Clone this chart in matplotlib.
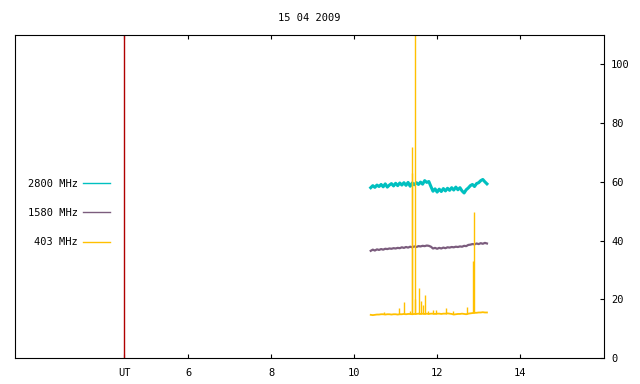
import numpy as np
import matplotlib
matplotlib.use('Agg')
import matplotlib.pyplot as plt

title = '15 04 2009'
ut_hour = 4.46
t_start, t_end = 10.40, 13.20
x_ticks = [6, 8, 10, 12, 14]
y_ticks = [0, 20, 40, 60, 80, 100]

# flux samples, one every 0.05 h from t_start to t_end
mhz2800 = [58.0, 58.7, 58.1, 58.9, 58.4, 59.1, 58.3, 59.3, 58.2, 58.9,
           59.4, 58.6, 59.5, 58.7, 59.6, 58.9, 59.7, 58.8, 59.8, 58.5,
           59.6, 59.0, 59.7, 59.1, 59.9, 59.2, 60.4, 59.8, 60.1, 58.4,
           56.8, 57.6, 56.5, 57.5, 56.7, 57.7, 56.9, 57.8, 57.1, 58.0,
           57.2, 58.2, 57.3, 58.0, 56.9, 56.2, 57.3, 57.9, 58.7, 59.1,
           58.4, 59.4, 59.7, 60.4, 60.8, 60.0, 59.3]
mhz1580 = [36.5, 36.9, 36.6, 37.0, 36.8, 37.1, 36.9, 37.2, 37.1, 37.3,
           37.2, 37.4, 37.3, 37.5, 37.4, 37.7, 37.5, 37.8, 37.6, 37.9,
           37.7, 38.0, 37.8, 38.1, 38.0, 38.2, 38.1, 38.3, 38.2, 37.9,
           37.3, 37.5, 37.2, 37.5, 37.3, 37.6, 37.4, 37.7, 37.6, 37.8,
           37.7, 37.9, 37.8, 38.0, 37.9, 38.2, 38.1, 38.5, 38.6, 38.8,
           38.7, 39.0, 38.8, 39.1, 38.9, 39.2, 39.0]
mhz403 = [14.7, 14.6, 14.7, 14.8, 14.8, 14.9, 14.9, 14.8, 14.9, 14.9,
          14.8, 14.9, 14.9, 14.8, 14.9, 14.9, 15.0, 14.9, 15.0, 15.0,
          14.9, 15.0, 15.0, 15.1, 15.0, 15.1, 15.0, 15.1, 15.0, 15.1,
          15.1, 15.0, 15.1, 15.1, 15.0, 15.1, 15.1, 15.2, 15.1, 15.0,
          14.8, 14.9, 15.0, 15.0, 15.1, 15.0, 14.9, 15.1, 15.2, 15.3,
          15.4, 15.4, 15.5, 15.5, 15.6, 15.5, 15.5]
# 403 MHz bursts
spike_t = [10.71, 11.07, 11.19, 11.35, 11.385, 11.40, 11.455, 11.47, 11.57, 11.60,
           11.65, 11.71, 11.79, 11.89, 11.98, 12.21, 12.39, 12.73, 12.86, 12.88]
spike_v = [15.8, 17.1, 19.2, 16.0, 72.0, 63.0, 115.0, 20.0, 23.9, 19.5,
           18.0, 21.3, 16.0, 16.3, 16.3, 17.1, 16.0, 17.5, 33.0, 49.8]

c2800 = '#00c0c0'
c1580 = '#7b5c7d'
c403 = '#ffc000'

plt.rcParams['font.family'] = ['DejaVu Sans Mono']
fs = 7.5

fig = plt.figure(figsize=(6.4, 3.84), dpi=100)
ax = fig.add_axes([15/640, 26/384, 589/640, 323/384])

times = np.linspace(t_start, t_end, len(mhz2800))
ax.plot(times, mhz2800, color=c2800, lw=2.2, label='2800 MHz')
ax.plot(times, mhz1580, color=c1580, lw=1.6, label='1580 MHz')
ax.plot(times, mhz403, color=c403, lw=1.3, label='403 MHz')
foot = np.interp(spike_t, times, mhz403)
ax.vlines(spike_t, foot, spike_v, color=c403, lw=1.0)

ax.axvline(ut_hour, color='#b00000', lw=1.0)

ax.set_xlim(1.83, 16.02)
ax.set_ylim(0, 110)
ax.set_xticks([ut_hour] + x_ticks)
ax.set_xticklabels(['UT'] + [str(v) for v in x_ticks])
ax.set_yticks(y_ticks)
ax.yaxis.tick_right()
ax.tick_params(axis='x', top=True, bottom=True, direction='in', length=3,
               width=0.8, pad=7, labelsize=fs)
ax.tick_params(axis='y', left=False, right=True, direction='in', length=3,
               width=0.8, pad=5, labelsize=fs)
for s in ax.spines.values():
    s.set_linewidth(0.8)

leg = ax.legend(loc='center right', bbox_to_anchor=(95/589, (358-213)/323),
                markerfirst=False, frameon=False, fontsize=fs, handlelength=2.6,
                handletextpad=0.5, labelspacing=1.85, borderpad=0, borderaxespad=0)
for h in leg.get_lines():
    h.set_linewidth(1.0)

fig.text(309.5/640, 1-18/384, title, ha='center', va='center', fontsize=fs)

fig.savefig('out.png', dpi=100)
